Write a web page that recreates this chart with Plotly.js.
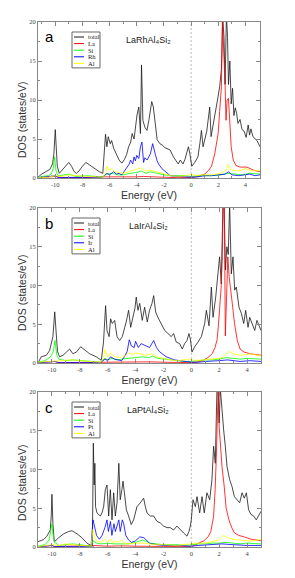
<!DOCTYPE html>
<html><head><meta charset="utf-8">
<script src="https://cdn.plot.ly/plotly-3.0.1.min.js"></script>
<style>html,body{margin:0;padding:0;background:#fff;} #chart{width:295px;height:578px;}</style>
</head><body><div id="chart"></div>
<script>
// ---------- Panel a : LaRhAl4Si2 ----------
const aTotE = [-11.27,-11.0,-10.7,-10.4,-10.2,-10.1,-10.0,-9.95,-9.85,-9.7,-9.5,-9.25,-9.0,-8.8,-8.6,-8.45,-8.25,-8.0,-7.75,-7.5,-7.1,-6.75,-6.5,-6.4,-6.3,-6.2,-6.1,-5.95,-5.85,-5.7,-5.5,-5.3,-5.1,-4.9,-4.75,-4.6,-4.45,-4.34,-4.2,-4.1,-3.98,-3.85,-3.73,-3.65,-3.55,-3.4,-3.25,-3.1,-3.0,-2.9,-2.78,-2.65,-2.5,-2.3,-2.1,-1.95,-1.8,-1.55,-1.3,-1.1,-0.95,-0.8,-0.6,-0.45,-0.32,-0.2,-0.1,0.05,0.27,0.5,0.65,0.76,0.88,1.0,1.15,1.25,1.37,1.47,1.6,1.74,1.86,1.98,2.1,2.23,2.33,2.42,2.5,2.6,2.68,2.75,2.85,2.95,3.05,3.15,3.25,3.35,3.45,3.6,3.75,3.9,4.05,4.2,4.3,4.4,4.55,4.7,4.85,5.07];
const aTot  = [0.1,0.5,0.8,1.1,1.8,3.1,6.2,4.5,1.5,0.6,1.0,1.6,2.0,1.5,0.8,0.6,0.9,1.5,2.0,1.7,1.2,0.8,0.6,3.1,5.6,4.0,5.3,4.4,4.8,3.8,3.1,2.3,1.9,2.4,3.0,4.0,4.6,5.7,5.0,6.6,8.1,9.1,5.7,14.5,7.4,6.5,6.1,7.5,8.7,9.8,9.1,7.0,4.9,4.4,4.2,3.9,3.8,3.6,2.7,2.1,1.8,2.3,1.8,2.4,3.1,4.0,3.2,1.5,2.0,2.7,4.5,6.1,4.0,4.9,6.0,7.4,9.1,5.3,6.5,7.9,9.0,10.4,11.7,13.9,20.5,18.0,12.0,21.0,18.0,12.0,15.0,9.5,11.5,8.0,9.0,8.3,7.0,7.5,6.2,6.0,5.2,6.8,5.5,6.3,5.3,5.0,4.8,4.0];
const aLaE = [-11.27,-10.0,-9.5,-8.0,-6.3,-5.0,-4.0,-3.5,-3.0,-2.0,-1.0,0.0,0.5,0.8,1.0,1.3,1.5,1.74,1.9,1.99,2.1,2.23,2.3,2.4,2.5,2.57,2.65,2.75,2.85,2.95,3.1,3.3,3.6,4.1,4.6,5.07];
const aLa  = [0.02,0.2,0.05,0.05,0.15,0.1,0.15,0.2,0.15,0.1,0.05,0.05,0.2,0.4,0.5,1.0,1.5,3.1,4.5,5.7,8.5,11.7,20.5,17.0,12.0,7.4,10.0,10.2,6.1,4.0,2.3,1.6,1.4,1.4,1.0,0.8];
const aSiE = [-11.27,-11.0,-10.5,-10.3,-10.15,-10.05,-9.95,-9.8,-9.5,-9.0,-8.5,-8.0,-7.7,-7.0,-6.5,-6.2,-5.8,-5.4,-5.0,-4.5,-4.0,-3.7,-3.3,-3.0,-2.5,-2.0,-1.5,-1.0,-0.5,0.0,0.7,1.5,2.2,2.7,3.2,3.8,4.3,5.07];
const aSi  = [0.05,0.2,0.3,0.5,1.2,2.7,1.0,0.3,0.35,0.5,0.2,0.25,0.3,0.2,0.15,0.5,0.6,0.4,0.4,0.6,0.7,0.9,0.6,0.8,0.6,0.4,0.3,0.3,0.3,0.2,0.3,0.3,0.4,0.6,0.5,0.4,0.6,0.5];
const aRhE = [-11.27,-10.0,-9.8,-8.0,-6.5,-6.4,-6.2,-6.0,-5.7,-5.5,-5.3,-5.1,-4.95,-4.7,-4.55,-4.46,-4.3,-4.2,-4.1,-4.0,-3.85,-3.73,-3.62,-3.5,-3.4,-3.24,-3.1,-3.0,-2.83,-2.72,-2.63,-2.5,-2.4,-2.15,-1.9,-1.54,-1.0,-0.5,0.0,0.5,1.0,1.5,2.0,2.5,2.75,3.0,3.5,4.0,4.3,4.7,5.07];
const aRh  = [0.02,0.3,0.05,0.05,0.1,0.3,0.6,0.4,0.8,0.5,0.6,0.4,0.8,1.4,1.8,2.3,1.8,2.7,2.2,2.9,2.5,4.0,4.6,2.0,2.6,2.3,2.8,3.1,4.4,3.8,3.0,2.2,1.8,1.2,0.8,0.3,0.2,0.15,0.1,0.15,0.3,0.3,0.4,0.5,0.8,0.4,0.3,0.4,0.5,0.3,0.4];
const aAlE = [-11.27,-10.5,-10.0,-9.5,-9.0,-8.5,-7.7,-7.0,-6.5,-6.3,-6.2,-6.05,-5.85,-5.6,-5.0,-4.6,-4.3,-4.0,-3.7,-3.4,-3.0,-2.6,-2.0,-1.5,-1.0,-0.3,0.0,0.3,0.8,1.5,2.2,2.55,2.7,2.85,3.0,3.5,4.0,4.5,5.07];
const aAl  = [0.03,0.1,0.3,0.2,0.4,0.3,0.2,0.15,0.1,0.6,1.5,1.0,1.2,0.8,0.6,0.8,1.0,1.2,1.3,0.9,1.0,0.8,0.5,0.3,0.2,0.3,0.5,0.3,0.4,0.4,0.6,1.0,1.7,1.2,1.0,0.9,1.2,0.9,1.0];

// ---------- Panel b : LaIrAl4Si2 ----------
const bTotE = [-11.0,-10.77,-10.4,-10.17,-9.93,-9.8,-9.7,-9.6,-9.45,-9.2,-8.97,-8.73,-8.5,-8.25,-7.94,-7.66,-7.3,-6.82,-6.46,-6.3,-6.15,-6.05,-5.9,-5.79,-5.67,-5.5,-5.33,-5.14,-4.95,-4.78,-4.67,-4.5,-4.35,-4.19,-4.05,-3.95,-3.83,-3.7,-3.52,-3.35,-3.16,-3.0,-2.82,-2.7,-2.56,-2.4,-2.15,-1.91,-1.67,-1.44,-1.27,-1.08,-0.84,-0.65,-0.48,-0.31,-0.17,-0.07,0.05,0.24,0.48,0.72,0.96,1.08,1.27,1.44,1.56,1.75,1.91,2.03,2.15,2.27,2.35,2.45,2.55,2.65,2.75,2.87,2.99,3.11,3.23,3.42,3.59,3.76,3.9,4.07,4.19,4.38,4.55,4.71,4.86,5.0];
const bTot  = [0.0,0.8,1.0,1.6,3.4,6.6,4.0,1.5,0.8,1.0,1.4,1.8,1.2,1.4,2.1,1.7,1.2,0.8,0.35,2.7,7.4,4.2,3.4,5.7,5.1,5.5,3.4,2.9,3.4,4.6,5.3,6.8,4.6,5.9,7.0,8.5,6.8,7.7,5.5,7.2,5.3,6.8,7.7,8.7,6.6,5.9,5.1,4.2,3.8,3.4,3.8,2.7,2.5,1.8,2.5,2.9,3.8,3.1,1.4,2.1,2.7,3.4,5.1,6.8,4.8,9.8,5.9,8.5,11.5,13.7,10.2,20.5,20.5,12.0,15.0,14.0,20.5,11.5,13.7,9.4,9.8,7.2,6.4,5.1,6.8,4.6,5.9,5.0,4.2,5.5,4.7,4.2];
const bLaE = [-11.0,-9.8,-9.5,-6.2,-5.0,-4.0,-3.0,-2.0,-1.0,0.0,0.5,0.8,1.2,1.5,1.7,1.85,1.95,2.05,2.15,2.22,2.3,2.37,2.44,2.52,2.62,2.72,2.8,2.92,3.1,3.3,3.5,3.8,4.2,5.0];
const bLa  = [0.02,0.2,0.05,0.15,0.1,0.15,0.15,0.1,0.05,0.05,0.15,0.3,0.7,1.2,2.0,3.0,5.0,8.0,10.0,14.0,20.5,20.5,3.5,8.0,13.7,11.0,9.4,8.0,5.1,2.9,1.8,1.4,1.2,1.0];
const bSiE = [-11.0,-10.5,-10.1,-9.9,-9.78,-9.65,-9.5,-9.0,-8.5,-7.9,-7.0,-6.5,-6.2,-6.0,-5.7,-5.3,-5.0,-4.5,-4.0,-3.5,-3.0,-2.8,-2.4,-2.0,-1.5,-1.0,-0.5,0.0,0.5,1.0,1.5,2.0,2.5,3.0,3.5,4.0,5.0];
const bSi  = [0.1,0.3,0.8,1.5,2.9,1.0,0.5,0.3,0.4,0.3,0.2,0.1,0.6,0.4,0.6,0.4,0.5,0.6,0.7,0.8,0.7,0.9,0.6,0.5,0.4,0.3,0.2,0.2,0.3,0.4,0.4,0.5,0.7,0.6,0.5,0.6,0.5];
const bIrE = [-11.0,-9.8,-9.5,-6.5,-6.2,-6.0,-5.8,-5.5,-5.0,-4.8,-4.6,-4.45,-4.3,-4.1,-4.0,-3.8,-3.6,-3.4,-3.2,-3.0,-2.8,-2.7,-2.5,-2.3,-2.1,-1.8,-1.5,-1.2,-0.8,-0.4,0.0,0.5,1.0,2.0,2.6,3.5,4.2,5.0];
const bIr  = [0.02,0.2,0.05,0.05,0.5,0.3,0.8,0.5,0.3,0.8,1.5,3.0,2.2,2.0,2.8,2.0,2.5,2.3,2.2,2.0,2.6,2.9,2.0,1.5,1.2,0.8,0.6,0.4,0.3,0.2,0.1,0.1,0.2,0.3,0.4,0.2,0.3,0.2];
const bAlE = [-11.0,-10.0,-9.7,-9.0,-8.5,-8.0,-7.0,-6.5,-6.3,-6.2,-6.0,-5.8,-5.5,-5.0,-4.7,-4.5,-4.2,-4.0,-3.7,-3.3,-3.0,-2.8,-2.5,-2.0,-1.5,-1.0,-0.5,-0.1,0.3,1.0,1.5,2.0,2.3,2.7,3.0,3.5,4.0,4.3,4.7,5.0];
const bAl  = [0.1,0.2,0.3,0.3,0.4,0.3,0.2,0.1,0.7,1.7,0.8,1.3,0.8,0.7,1.0,1.3,1.1,1.3,1.2,1.0,1.1,1.2,0.8,0.6,0.4,0.3,0.4,0.5,0.3,0.4,0.5,0.6,0.8,1.5,1.2,1.0,1.1,1.2,1.0,0.9];

// ---------- Panel c : LaPtAl4Si2 ----------
const cTotE = [-11.0,-10.6,-10.36,-10.12,-10.05,-10.0,-9.93,-9.83,-9.52,-9.16,-8.8,-8.56,-8.2,-7.85,-7.49,-7.25,-7.1,-7.03,-6.97,-6.92,-6.87,-6.77,-6.53,-6.41,-6.29,-6.17,-6.05,-5.93,-5.81,-5.69,-5.57,-5.45,-5.33,-5.2,-5.1,-4.98,-4.9,-4.8,-4.66,-4.5,-4.31,-4.14,-3.9,-3.66,-3.42,-3.3,-3.18,-2.94,-2.7,-2.46,-2.22,-1.99,-1.75,-1.51,-1.27,-1.03,-0.79,-0.55,-0.31,-0.17,-0.07,0.0,0.12,0.29,0.41,0.6,0.77,0.93,1.12,1.32,1.48,1.6,1.72,1.84,1.92,2.0,2.08,2.2,2.32,2.44,2.56,2.75,2.92,3.09,3.28,3.47,3.64,3.8,3.95,4.11,4.28,4.47,4.66,4.83,5.0];
const cTot  = [0.7,0.95,1.4,2.2,4.0,6.8,3.0,0.65,1.2,1.7,2.0,2.1,1.7,1.2,0.5,0.2,0.1,13.4,8.0,10.8,5.2,4.4,4.0,4.4,5.2,7.4,8.0,4.0,7.4,3.5,7.0,4.0,5.7,10.8,6.1,7.4,8.5,7.0,4.8,4.0,2.9,3.5,5.2,5.7,6.3,5.2,4.4,4.0,4.0,3.3,3.1,2.7,2.5,2.5,2.2,2.7,2.2,1.8,1.4,2.0,2.7,3.5,6.1,5.2,6.5,4.4,6.5,4.4,7.0,6.1,8.7,13.0,10.8,20.5,20.5,16.0,20.5,17.3,15.1,13.0,10.4,8.7,7.8,6.5,6.1,5.7,7.0,6.3,7.0,4.8,4.2,4.0,3.5,4.0,4.6];
const cLaE = [-11.0,-10.0,-9.8,-7.05,-6.0,-5.0,-4.0,-3.0,-2.0,0.0,0.3,0.6,0.9,1.2,1.4,1.6,1.71,1.8,1.87,1.93,2.0,2.1,2.2,2.35,2.5,2.7,2.9,3.1,3.4,3.8,4.3,5.0];
const cLa  = [0.02,0.2,0.05,0.2,0.1,0.15,0.1,0.1,0.05,0.05,0.3,0.5,0.8,1.3,2.0,4.0,7.4,12.0,16.0,20.5,15.5,13.0,10.4,8.0,5.0,3.5,2.5,1.8,1.5,1.3,1.0,0.8];
const cSiE = [-11.0,-10.5,-10.2,-10.0,-9.9,-9.8,-9.5,-9.0,-8.5,-8.0,-7.5,-7.2,-7.05,-6.8,-6.5,-6.0,-5.5,-5.0,-4.5,-4.0,-3.5,-3.2,-3.0,-2.5,-2.0,-1.0,-0.5,0.0,0.5,1.0,1.5,2.0,2.5,3.0,3.5,4.0,5.0];
const cSi  = [0.1,0.3,0.9,3.0,1.2,0.6,0.2,0.3,0.4,0.3,0.2,0.1,0.8,0.5,0.4,0.5,0.4,0.4,0.4,0.6,0.9,0.7,0.5,0.4,0.3,0.3,0.2,0.3,0.4,0.4,0.5,0.5,0.6,0.5,0.4,0.5,0.4];
const cPtE = [-11.0,-10.0,-9.8,-7.2,-7.05,-6.95,-6.8,-6.6,-6.4,-6.2,-6.05,-5.95,-5.8,-5.7,-5.55,-5.45,-5.2,-5.1,-4.95,-4.85,-4.7,-4.5,-4.3,-4.0,-3.7,-3.4,-3.2,-3.0,-2.5,-2.0,-1.0,0.0,0.5,1.5,2.2,3.0,4.0,5.0];
const cPt  = [0.02,0.2,0.05,0.05,3.5,2.5,1.5,1.0,1.5,2.5,3.5,2.0,3.3,1.5,3.0,2.0,3.5,2.0,3.5,3.0,1.5,0.9,0.6,0.8,1.3,1.2,0.8,0.5,0.3,0.2,0.2,0.1,0.2,0.3,0.4,0.3,0.2,0.2];
const cAlE = [-11.0,-10.2,-10.0,-9.5,-9.0,-8.5,-8.0,-7.5,-7.2,-7.05,-6.95,-6.8,-6.5,-6.2,-6.0,-5.8,-5.6,-5.4,-5.2,-5.0,-4.8,-4.5,-4.0,-3.5,-3.0,-2.5,-2.0,-1.0,-0.5,0.0,0.3,1.0,1.5,2.0,2.3,2.6,3.0,3.5,4.0,4.5,5.0];
const cAl  = [0.05,0.2,0.3,0.2,0.4,0.3,0.2,0.15,0.1,2.3,1.3,0.8,0.6,1.0,0.6,1.0,0.5,0.8,0.6,0.9,0.5,0.4,0.5,0.5,0.4,0.3,0.3,0.2,0.3,0.4,0.5,0.5,0.7,0.9,1.5,1.2,1.0,0.9,0.8,0.8,1.0];

const seriesNames = ['total','La','Si',null,'Al'];
const seriesColors = ['#1a1a1a','#ff0000','#00ff00','#0000ff','#ffff00'];
const xTickVals = [-10,-8,-6,-4,-2,0,2,4];
const compounds = ['LaRhAl₄Si₂','LaIrAl₄Si₂','LaPtAl₄Si₂'];

// ---------- layout helpers ----------
const W = 295, H = 578;
const px = v => v / W;
const py = v => 1 - v / H;

const panels = [
  {letter:'a', metal:'Rh', top:22, bottom:178, left:38, right:260, xr:[-11.27,5.07], ytitle:120,
   data:[[aTotE,aTot],[aLaE,aLa],[aSiE,aSi],[aRhE,aRh],[aAlE,aAl]]},
  {letter:'b', metal:'Ir', top:208, bottom:363, left:38, right:261, xr:[-11,5], ytitle:293,
   data:[[bTotE,bTot],[bLaE,bLa],[bSiE,bSi],[bIrE,bIr],[bAlE,bAl]]},
  {letter:'c', metal:'Pt', top:392, bottom:547, left:38, right:261, xr:[-11,5], ytitle:483,
   data:[[cTotE,cTot],[cLaE,cLa],[cSiE,cSi],[cPtE,cPt],[cAlE,cAl]]}
];

const traces = [];
const layout = {
  width: W, height: H,
  margin: {l:0, r:0, t:0, b:0},
  paper_bgcolor: '#fff', plot_bgcolor: '#fff',
  showlegend: false,
  shapes: [], annotations: []
};

const axCommon = {
  showline: true, linecolor: '#888', linewidth: 1, mirror: 'allticks',
  ticks: 'inside', ticklen: 4, tickwidth: 1, tickcolor: '#888',
  showgrid: false, zeroline: false,
  tickfont: {family: 'Liberation Serif', size: 6.5, color: '#444'}
};

panels.forEach((p, i) => {
  const n = i === 0 ? '' : String(i + 1);
  const xa = 'x' + n, ya = 'y' + n;
  p.data.forEach((d, k) => {
    traces.push({
      type: 'scatter', mode: 'lines', x: d[0], y: d[1],
      xaxis: xa, yaxis: ya,
      name: k === 3 ? p.metal : seriesNames[k],
      line: {color: seriesColors[k], width: 0.8},
      hoverinfo: 'skip', showlegend: false
    });
  });
  layout['xaxis' + n] = Object.assign({}, axCommon, {
    domain: [px(p.left), px(p.right)], anchor: ya, range: p.xr,
    tickvals: xTickVals, ticktext: xTickVals.map(String),
    minor: {ticks: 'inside', ticklen: 2, tickcolor: '#888', dtick: 1, tick0: 0, showgrid: false},
    title: {text: 'Energy (eV)', font: {family: 'Liberation Sans', size: 10.5, color: '#333'}, standoff: 4}
  });
  layout['yaxis' + n] = Object.assign({}, axCommon, {
    domain: [py(p.bottom), py(p.top)], anchor: xa, range: [0, 20],
    tick0: 0, dtick: 5,
    minor: {ticks: 'inside', ticklen: 2, tickcolor: '#888', dtick: 2.5, tick0: 0, showgrid: false}
  });
  // Fermi level dashed line
  layout.shapes.push({type: 'line', xref: xa, yref: ya, x0: 0, x1: 0, y0: 0, y1: 20, layer: 'below',
    line: {color: '#aaa', width: 0.8, dash: '2px,2px'}});
  // y title
  layout.annotations.push({xref: 'paper', yref: 'paper', x: px(22), y: py(p.ytitle), text: 'DOS (states/eV)',
    textangle: -90, showarrow: false, xanchor: 'center', yanchor: 'middle',
    font: {family: 'Liberation Sans', size: 10.5, color: '#333'}});
  // panel letter
  layout.annotations.push({xref: 'paper', yref: 'paper', x: px(43), y: py(p.top + 15), text: p.letter,
    showarrow: false, xanchor: 'left', yanchor: 'middle',
    font: {family: 'Liberation Sans', size: 15, color: '#000'}});
  // compound label
  layout.annotations.push({xref: 'paper', yref: 'paper', x: px(148), y: py(p.top + 18), text: compounds[i],
    showarrow: false, xanchor: 'center', yanchor: 'middle',
    font: {family: 'Liberation Sans', size: 9, color: '#222'}});
  // legend box
  const r0 = p.top + 15, dr = 6.6;
  layout.shapes.push({type: 'rect', xref: 'paper', yref: 'paper', x0: px(72), x1: px(100),
    y0: py(r0 - 5), y1: py(r0 + 4 * dr + 4.5), line: {color: '#666', width: 1}, fillcolor: 'rgba(255,255,255,0)'});
  for (let k = 0; k < 5; k++) {
    const yy = r0 + k * dr;
    layout.shapes.push({type: 'line', xref: 'paper', yref: 'paper', x0: px(74), x1: px(84), y0: py(yy), y1: py(yy),
      line: {color: seriesColors[k], width: 1}});
    layout.annotations.push({xref: 'paper', yref: 'paper', x: px(86), y: py(yy), text: k === 3 ? p.metal : seriesNames[k],
      showarrow: false, xanchor: 'left', yanchor: 'middle',
      font: {family: 'Liberation Serif', size: 6.5, color: '#222'}});
  }
});

Plotly.newPlot('chart', traces, layout, {staticPlot: true, displayModeBar: false});
</script>
</body></html>
